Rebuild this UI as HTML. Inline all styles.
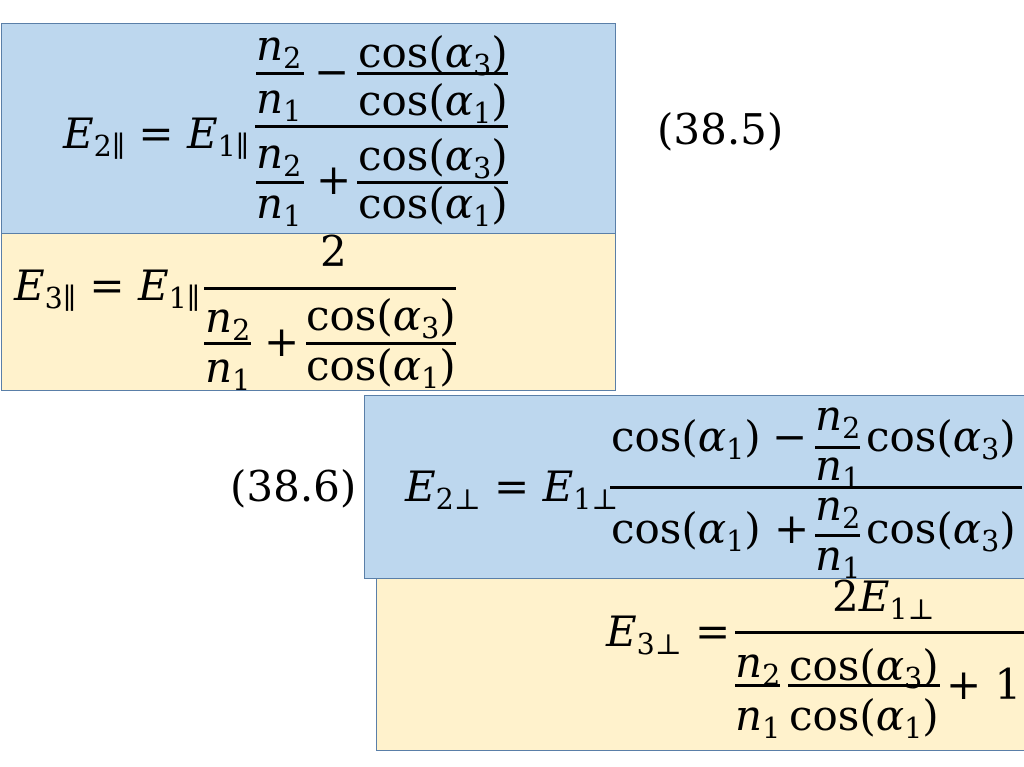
<!DOCTYPE html>
<html><head><meta charset="utf-8"><style>
html,body{margin:0;padding:0;background:#fff;}
body{width:1024px;height:767px;position:relative;overflow:hidden;}
.box{position:absolute;box-sizing:border-box;border:1.5px solid #5a7fa8;}
.bl{background:#bdd7ee;}
.ye{background:#fff2cc;}
.t{position:absolute;font-family:"DejaVu Serif","Liberation Serif",serif;font-size:42px;line-height:40px;white-space:nowrap;color:#000;letter-spacing:0px;}
.t i{font-style:italic;}
.t sub{font-size:0.68em;vertical-align:0;position:relative;top:0.28em;line-height:0;}
.b{position:absolute;height:3px;background:#000;}
</style></head><body>
<div class="box bl" style="left:1px;top:23px;width:615px;height:211px;"></div>
<div class="box ye" style="left:1px;top:233px;width:615px;height:158px;"></div>
<div class="box ye" style="left:376px;top:577px;width:660px;height:174px;"></div>
<div class="box bl" style="left:364px;top:395px;width:670px;height:184px;"></div>

<!-- F1 -->
<div class="t" style="left:63px;top:114px;"><i>E</i><sub>2∥</sub> = <i>E</i><sub>1∥</sub></div>
<div class="t" style="left:256px;top:26px;"><i>n</i><sub>2</sub></div>
<div class="b" style="left:256px;top:72px;width:48px;"></div>
<div class="t" style="left:256px;top:79px;"><i>n</i><sub>1</sub></div>
<div class="t" style="left:314px;top:52px;">−</div>
<div class="t" style="left:358px;top:33px;">cos(<i>α</i><sub>3</sub>)</div>
<div class="b" style="left:357px;top:72px;width:151px;"></div>
<div class="t" style="left:358px;top:81px;">cos(<i>α</i><sub>1</sub>)</div>
<div class="b" style="left:255px;top:125px;width:253px;"></div>
<div class="t" style="left:256px;top:134px;"><i>n</i><sub>2</sub></div>
<div class="b" style="left:256px;top:181px;width:48px;"></div>
<div class="t" style="left:256px;top:184px;"><i>n</i><sub>1</sub></div>
<div class="t" style="left:316px;top:160px;">+</div>
<div class="t" style="left:358px;top:136px;">cos(<i>α</i><sub>3</sub>)</div>
<div class="b" style="left:357px;top:181px;width:151px;"></div>
<div class="t" style="left:358px;top:184px;">cos(<i>α</i><sub>1</sub>)</div>
<div class="t" style="left:657px;top:110px;">(38.5)</div>

<!-- F2 -->
<div class="t" style="left:14px;top:266px;"><i>E</i><sub>3∥</sub> = <i>E</i><sub>1∥</sub></div>
<div class="t" style="left:320px;top:232px;">2</div>
<div class="b" style="left:204px;top:287px;width:252px;"></div>
<div class="t" style="left:205px;top:298px;"><i>n</i><sub>2</sub></div>
<div class="b" style="left:204px;top:342px;width:47px;"></div>
<div class="t" style="left:205px;top:348px;"><i>n</i><sub>1</sub></div>
<div class="t" style="left:264px;top:322px;">+</div>
<div class="t" style="left:306px;top:296px;">cos(<i>α</i><sub>3</sub>)</div>
<div class="b" style="left:306px;top:342px;width:150px;"></div>
<div class="t" style="left:306px;top:346px;">cos(<i>α</i><sub>1</sub>)</div>

<!-- F3 -->
<div class="t" style="left:230px;top:467px;">(38.6)</div>
<div class="t" style="left:405px;top:467px;"><i>E</i><sub>2⊥</sub> = <i>E</i><sub>1⊥</sub></div>
<div class="t" style="left:611px;top:417px;">cos(<i>α</i><sub>1</sub>)</div>
<div class="t" style="left:772px;top:417px;">−</div>
<div class="t" style="left:815px;top:396px;"><i>n</i><sub>2</sub></div>
<div class="b" style="left:815px;top:446px;width:45px;"></div>
<div class="t" style="left:815px;top:446px;"><i>n</i><sub>1</sub></div>
<div class="t" style="left:866px;top:417px;">cos(<i>α</i><sub>3</sub>)</div>
<div class="b" style="left:610px;top:486px;width:412px;"></div>
<div class="t" style="left:611px;top:509px;">cos(<i>α</i><sub>1</sub>)</div>
<div class="t" style="left:774px;top:509px;">+</div>
<div class="t" style="left:815px;top:486px;"><i>n</i><sub>2</sub></div>
<div class="b" style="left:815px;top:534px;width:45px;"></div>
<div class="t" style="left:815px;top:536px;"><i>n</i><sub>1</sub></div>
<div class="t" style="left:866px;top:509px;">cos(<i>α</i><sub>3</sub>)</div>

<!-- F4 -->
<div class="t" style="left:606px;top:612px;"><i>E</i><sub>3⊥</sub> =</div>
<div class="t" style="left:832px;top:577px;">2<i>E</i><sub>1⊥</sub></div>
<div class="b" style="left:735px;top:631px;width:290px;"></div>
<div class="t" style="left:735px;top:643px;"><i>n</i><sub>2</sub></div>
<div class="b" style="left:735px;top:684px;width:45px;"></div>
<div class="t" style="left:735px;top:696px;"><i>n</i><sub>1</sub></div>
<div class="t" style="left:789px;top:646px;">cos(<i>α</i><sub>3</sub>)</div>
<div class="b" style="left:788px;top:684px;width:152px;"></div>
<div class="t" style="left:789px;top:696px;">cos(<i>α</i><sub>1</sub>)</div>
<div class="t" style="left:946px;top:665px;">+ 1</div>
</body></html>
